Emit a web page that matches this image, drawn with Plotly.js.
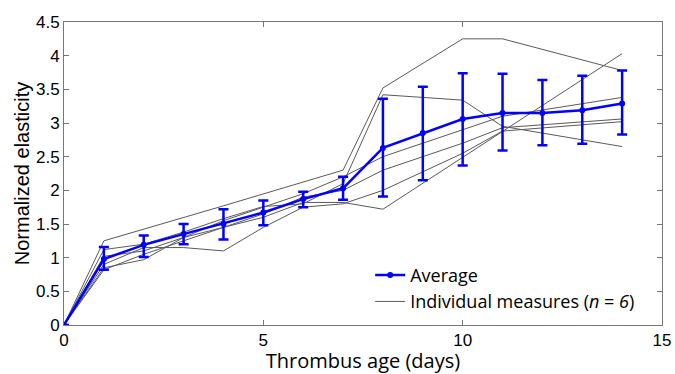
<!DOCTYPE html>
<html>
<head>
<meta charset="utf-8">
<script src="https://cdn.plot.ly/plotly-3.0.1.min.js"></script>
<style>html,body{margin:0;padding:0;background:#fff}#chart{width:675px;height:374px}</style>
</head>
<body>
<div id="chart"></div>
<script>
// Average elasticity (days 0..14)
const avgDays = [0,1,2,3,4,5,6,7,8,9,10,11,12,13,14];
const avgValues = [0,0.98,1.19,1.35,1.50,1.67,1.87,2.03,2.63,2.85,3.06,3.15,3.15,3.19,3.29];
const errUpper = [0,1.16,1.33,1.50,1.72,1.85,1.98,2.20,3.36,3.54,3.74,3.73,3.64,3.70,3.78];
const errLower = [0,0.82,1.01,1.20,1.27,1.48,1.75,1.86,1.91,2.15,2.37,2.59,2.67,2.69,2.83];

// Individual measures (n = 6)
const ind1Days = [0,1,4,7,8,10,11,14];
const ind1Values = [0,1.25,1.77,2.30,3.52,4.25,4.25,3.78];
const ind2Days = [0,1,2,3,4,5,6,7,8,10,11,14];
const ind2Values = [0,1.12,1.20,1.38,1.58,1.76,1.80,2.10,3.42,3.34,2.95,2.65];
const ind3Days = [0,1,2,3,4,5,6,7,8,14];
const ind3Values = [0,0.85,0.97,1.30,1.45,1.60,1.82,1.82,1.72,4.03];
const ind4Days = [0,1,2,3,4,5,6,7,8,10,11,14];
const ind4Values = [0,0.90,1.15,1.15,1.10,1.45,1.75,1.80,2.00,2.55,2.88,3.02];
const ind5Days = [0,1,2,3,4,5,6,7,8,10,11,14];
const ind5Values = [0,0.82,1.05,1.25,1.45,1.65,1.90,2.00,2.30,2.70,2.93,3.06];
const ind6Days = [0,1,2,3,4,5,6,7,8,10,11,14];
const ind6Values = [0,1.02,1.10,1.30,1.55,1.75,1.95,2.20,2.50,2.90,3.10,3.38];

const indDays = [ind1Days, ind2Days, ind3Days, ind4Days, ind5Days, ind6Days];
const indValues = [ind1Values, ind2Values, ind3Values, ind4Values, ind5Values, ind6Values];

const traces = [];
indDays.forEach((d,i)=>{
  traces.push({
    x: d, y: indValues[i], type: 'scatter', mode: 'lines',
    name: 'Individual measures (<i>n</i> = <i>6</i>)',
    legendgroup: 'ind', showlegend: i===0, legendrank: 2,
    line: {color: '#5a5a5a', width: 1}
  });
});
traces.push({
  x: avgDays, y: avgValues, type: 'scatter', mode: 'lines+markers',
  name: 'Average', legendrank: 1,
  line: {color: '#0000ff', width: 2.5},
  marker: {color: '#0000ff', size: 6},
  error_y: {type: 'data', symmetric: false,
    array: avgValues.map((v,i)=>errUpper[i]-v),
    arrayminus: avgValues.map((v,i)=>v-errLower[i]),
    color: '#0000ff', thickness: 2.5, width: 5}
});

const layout = {
  width: 675, height: 374,
  margin: {l: 64, r: 13, t: 22, b: 49},
  paper_bgcolor: '#fff', plot_bgcolor: '#fff',
  font: {family: 'Liberation Sans, Arial, sans-serif', color: '#000', size: 17},
  showlegend: true,
  legend: {x: 0.512, y: 0.225, xanchor: 'left', yanchor: 'top', bgcolor: 'rgba(0,0,0,0)',
    font: {family: 'Open Sans, sans-serif', size: 18, color: '#000'}, itemwidth: 30, tracegroupgap: 0},
  xaxis: {range: [0, 15], tickvals: [0,5,10,15], ticktext: ['0','5','10','15'],
    showline: true, mirror: 'ticks', linecolor: '#777', linewidth: 1,
    ticks: 'inside', ticklen: 5, tickcolor: '#777', showgrid: false, zeroline: false,
    tickfont: {size: 17, color: '#000'},
    title: {text: 'Thrombus age (days)', font: {family: 'Open Sans, sans-serif', size: 20, color: '#000'}, standoff: 6}},
  yaxis: {range: [0, 4.5], dtick: 0.5, tick0: 0,
    showline: true, mirror: 'ticks', linecolor: '#777', linewidth: 1,
    ticks: 'inside', ticklen: 5, tickcolor: '#777', showgrid: false, zeroline: false,
    tickfont: {size: 17, color: '#000'},
    title: {text: 'Normalized elasticity', font: {family: 'Liberation Sans, Arial, sans-serif', size: 20, color: '#000'}, standoff: 0}}
};
Plotly.newPlot('chart', traces, layout, {displayModeBar: false, staticPlot: true});
</script>
</body>
</html>
